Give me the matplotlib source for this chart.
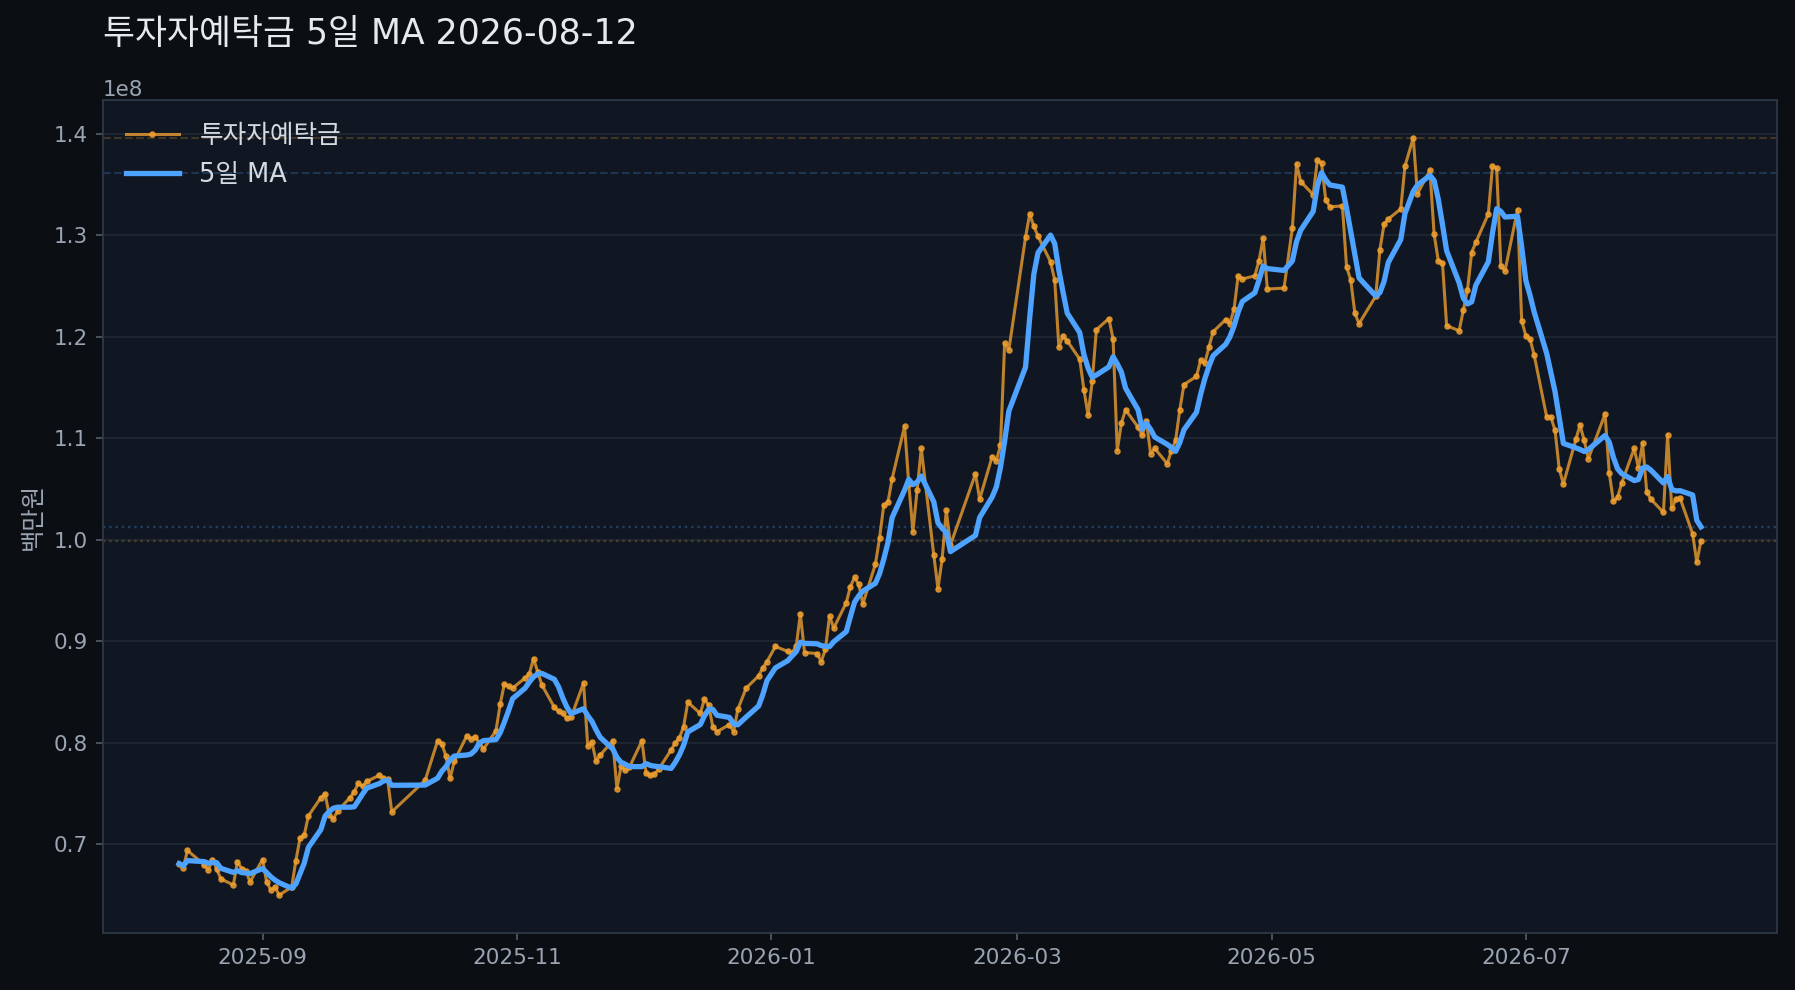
import numpy as np
import pandas as pd
import matplotlib
matplotlib.use('Agg')
import matplotlib.pyplot as plt
import matplotlib.dates as mdates

plt.rcParams['font.family'] = ['DejaVu Sans', 'Noto Sans CJK KR']

# 휴장일 (영업일 달력에서 제외)
holidays = ['2025-08-15', '2025-10-03', '2025-10-06', '2025-10-07', '2025-10-08',
            '2025-10-09', '2025-12-25', '2026-01-01', '2026-02-16', '2026-02-17',
            '2026-02-18', '2026-03-02', '2026-05-01', '2026-05-05', '2026-05-25',
            '2026-06-03', '2026-07-17']

# 투자자예탁금 (단위 1e8), 월별
aug25 = [0.681, 0.677, 0.694, 0.680, 0.675, 0.685, 0.676, 0.666, 0.660, 0.683, 0.676, 0.674, 0.663]
sep25 = [0.685, 0.663, 0.655, 0.658, 0.650, 0.658, 0.684, 0.706, 0.709, 0.728, 0.746, 0.750,
         0.729, 0.725, 0.733, 0.746, 0.752, 0.760, 0.757, 0.762, 0.768, 0.765]
oct25 = [0.764, 0.732, 0.763, 0.802, 0.799, 0.787, 0.765, 0.782, 0.807, 0.804, 0.806, 0.800,
         0.794, 0.812, 0.838, 0.858, 0.856, 0.854]
nov25 = [0.864, 0.868, 0.883, 0.870, 0.857, 0.835, 0.831, 0.829, 0.824, 0.825, 0.859, 0.797,
         0.801, 0.782, 0.788, 0.802, 0.755, 0.777, 0.773, 0.776]
dec25 = [0.802, 0.770, 0.768, 0.769, 0.774, 0.793, 0.800, 0.805, 0.816, 0.840, 0.829, 0.843,
         0.837, 0.816, 0.811, 0.818, 0.811, 0.833, 0.854, 0.866, 0.874, 0.880]
jan26 = [0.895, 0.890, 0.889, 0.895, 0.927, 0.889, 0.888, 0.880, 0.892, 0.925, 0.913, 0.938,
         0.954, 0.963, 0.956, 0.937, 0.976, 1.002, 1.034, 1.037, 1.060]
feb26 = [1.112, 1.055, 1.008, 1.049, 1.090, 0.985, 0.952, 0.981, 1.029, 0.995, 1.065, 1.040,
         1.082, 1.078, 1.093, 1.194, 1.187]
mar26 = [1.298, 1.321, 1.309, 1.299, 1.274, 1.256, 1.190, 1.201, 1.196, 1.178, 1.148, 1.123,
         1.156, 1.207, 1.218, 1.198, 1.088, 1.115, 1.128, 1.111, 1.103]
apr26 = [1.117, 1.085, 1.090, 1.075, 1.088, 1.098, 1.128, 1.153, 1.161, 1.177, 1.174, 1.190,
         1.205, 1.217, 1.213, 1.227, 1.260, 1.257, 1.260, 1.275, 1.297, 1.247]
may26 = [1.248, 1.307, 1.370, 1.353, 1.340, 1.374, 1.371, 1.335, 1.328, 1.329, 1.269, 1.256,
         1.223, 1.213, 1.240, 1.286, 1.311, 1.316]
jun26 = [1.326, 1.368, 1.396, 1.341, 1.364, 1.301, 1.275, 1.273, 1.211, 1.206, 1.226, 1.246,
         1.283, 1.293, 1.321, 1.368, 1.366, 1.270, 1.265, 1.325, 1.216]
jul26 = [1.201, 1.198, 1.182, 1.121, 1.121, 1.108, 1.070, 1.055, 1.099, 1.113, 1.098, 1.080,
         1.124, 1.066, 1.038, 1.042, 1.056, 1.090, 1.071, 1.095, 1.047, 1.040]
aug26 = [1.027, 1.103, 1.031, 1.040, 1.041, 1.006, 0.978, 0.999]

dates = pd.bdate_range('2025-08-12', '2026-08-12', freq='C', holidays=holidays)
vals = np.array(aug25 + sep25 + oct25 + nov25 + dec25 + jan26 + feb26 + mar26
                + apr26 + may26 + jun26 + jul26 + aug26) * 1e8
assert len(dates) == len(vals)

# 5일 이동평균
ma = pd.Series(vals).rolling(5, min_periods=1).mean().values

c_dep = '#f0a030'
c_ma = '#4da3ff'

fig = plt.figure(figsize=(17.95, 9.9), dpi=100, facecolor='#0b0f14')
ax = fig.add_axes([0.0574, 0.0576, 0.9326, 0.8414], facecolor='#111722')

ax.grid(axis='y', color='#1f2733', linewidth=1.3)
ax.set_axisbelow(True)

ax.axhline(vals.max(), color=c_dep, alpha=0.22, lw=1.5, ls='--')
ax.axhline(ma.max(), color=c_ma, alpha=0.22, lw=1.5, ls='--')
ax.axhline(ma[-1], color=c_ma, alpha=0.28, lw=1.7, ls=':')
ax.axhline(vals[-1], color=c_dep, alpha=0.25, lw=1.7, ls=':')

ax.plot(dates, vals, color=c_dep, lw=2.2, marker='o', ms=3.7, alpha=0.78, label='투자자예탁금')
ax.plot(dates, ma, color=c_ma, lw=3.8, label='5일 MA')

ax.xaxis.set_major_locator(mdates.MonthLocator(bymonth=[1, 3, 5, 7, 9, 11]))
ax.xaxis.set_major_formatter(mdates.DateFormatter('%Y-%m'))

for s in ax.spines.values():
    s.set_color('#2e3846')
    s.set_linewidth(1.3)
ax.tick_params(colors='#5b6573', labelcolor='#9aa4b2', labelsize=15.5, length=5, width=1.1, pad=6)
ax.yaxis.get_offset_text().set_color('#9aa4b2')
ax.yaxis.get_offset_text().set_fontsize(15.5)

ax.set_ylabel('백만원', color='#9aa4b2', fontsize=17.5, labelpad=6)

leg = ax.legend(loc='upper left', frameon=False, fontsize=18.5, handlelength=2.05)
for t in leg.get_texts():
    t.set_color('#d5dae1')

fig.text(0.0574, 0.9556, '투자자예탁금 5일 MA 2026-08-12', color='#e6e9ee',
         fontsize=25, ha='left', va='baseline')

fig.savefig('out.png', dpi=100, facecolor=fig.get_facecolor())
